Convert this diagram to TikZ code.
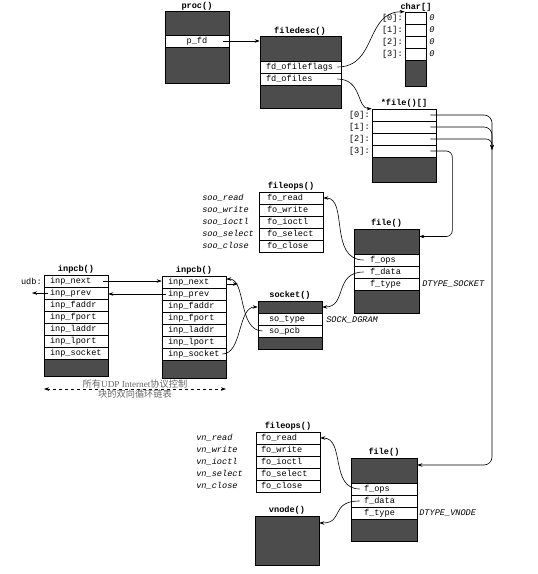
\documentclass[tikz,border=0pt]{standalone}
\usepackage{fontspec}
\setmainfont{Liberation Serif}
\setmonofont{Liberation Mono}
\newfontfamily\cjk{Noto Sans CJK SC}
\usetikzlibrary{arrows.meta}
\newcommand\mono{\fontsize{8.6pt}{9pt}\selectfont\ttfamily}
\tikzset{
  row/.style 2 args={draw, fill=white, minimum height=12pt, inner ysep=0pt,
    text width=#1, inner xsep=#2, align=left, text height=6pt, text depth=1.5pt, font=\mono},
  shade/.style={draw, fill=black!70, inner sep=0pt},
  hdr/.style={font=\mono\bfseries, inner sep=0pt},
  note/.style={font=\mono\itshape, anchor=west, inner sep=0pt},
  idx/.style={font=\mono, anchor=east, inner sep=0pt},
}
\begin{document}
\begin{tikzpicture}[x=1pt, y=-1pt, line width=0.6pt, >={Stealth[length=5pt,width=3.5pt]}]
\useasboundingbox (0,0) rectangle (538,574);

% proc{}
\node[hdr] (proct) at (197,6) {proc()};
\node[shade, minimum width=64pt, minimum height=24pt] (proca) at (197,23) {};
\node[row={52pt}{6pt}, align=center] (pfd) at (197,41) {p\_fd};
\node[shade, minimum width=64pt, minimum height=36pt] (procb) at (197,65) {};

% filedesc{}
\node[hdr] (fdt) at (300,31) {filedesc()};
\node[shade, minimum width=81pt, minimum height=25pt] (fdtop) at (300.5,48.5) {};
\node[row={69pt}{6pt}] (fdflags) at (300.5,67) {fd\_ofileflags};
\node[row={69pt}{6pt}] (fdfiles) at (300.5,79) {fd\_ofiles};
\node[shade, minimum width=81pt, minimum height=23pt] (fdbot) at (300.5,96.5) {};

% char[]
\node[hdr] (cht) at (416,7) {char[]};
\node[row={9pt}{6pt}] (c0) at (415.5,18) {};
\node[row={9pt}{6pt}] (c1) at (415.5,30) {};
\node[row={9pt}{6pt}] (c2) at (415.5,42) {};
\node[row={9pt}{6pt}] (c3) at (415.5,54) {};
\node[shade, minimum width=21pt, minimum height=26pt] (cbot) at (415.5,73) {};
\node[idx] (c0l) at (403,18) {[0]:};
\node[idx] (c1l) at (403,30) {[1]:};
\node[idx] (c2l) at (403,42) {[2]:};
\node[idx] (c3l) at (403,54) {[3]:};
\node[note, anchor=center] (c0v) at (432,18) {0};
\node[note, anchor=center] (c1v) at (432,30) {0};
\node[note, anchor=center] (c2v) at (432,42) {0};
\node[note, anchor=center] (c3v) at (432,54) {0};

% *file{}[]
\node[hdr] (fat) at (404,103) {*file()[]};
\node[row={52pt}{6pt}] (fa0) at (404,115) {};
\node[row={52pt}{6pt}] (fa1) at (404,127) {};
\node[row={52pt}{6pt}] (fa2) at (404,139) {};
\node[row={52pt}{6pt}] (fa3) at (404,151) {};
\node[shade, minimum width=64pt, minimum height=25pt] (fabot) at (404,169.5) {};
\node[idx] (fa0l) at (370,115) {[0]:};
\node[idx] (fa1l) at (370,127) {[1]:};
\node[idx] (fa2l) at (370,139) {[2]:};
\node[idx] (fa3l) at (370,151) {[3]:};

% fileops{} of the socket
\node[hdr] (sopt) at (291,186) {fileops()};
\node[row={48pt}{8pt}] (sread) at (291,198) {fo\_read};
\node[row={48pt}{8pt}] (swrite) at (291,210) {fo\_write};
\node[row={48pt}{8pt}] (sioctl) at (291,222) {fo\_ioctl};
\node[row={48pt}{8pt}] (sselect) at (291,234) {fo\_select};
\node[row={48pt}{8pt}] (sclose) at (291,246) {fo\_close};
\node[note] (sreadf) at (202,198) {soo\_read};
\node[note] (swritef) at (202,210) {soo\_write};
\node[note] (sioctlf) at (202,222) {soo\_ioctl};
\node[note] (sselectf) at (202,234) {soo\_select};
\node[note] (sclosef) at (202,246) {soo\_close};

% file{} of the socket
\node[hdr] (fst) at (386.5,223) {file()};
\node[shade, minimum width=65pt, minimum height=25pt] (fstop) at (386.5,241.5) {};
\node[row={33pt}{16pt}] (fsops) at (386.5,260) {f\_ops};
\node[row={33pt}{16pt}] (fsdata) at (386.5,272) {f\_data};
\node[row={33pt}{16pt}] (fstype) at (386.5,284) {f\_type};
\node[shade, minimum width=65pt, minimum height=23pt] (fsbot) at (386.5,301.5) {};
\node[note] (fstv) at (422,284) {DTYPE\_SOCKET};

% socket{}
\node[hdr] (skt) at (290,295) {socket()};
\node[shade, minimum width=64pt, minimum height=12pt] (sktop) at (290,307) {};
\node[row={42pt}{11pt}] (sktype) at (290,319) {so\_type};
\node[row={42pt}{11pt}] (skpcb) at (290,331) {so\_pcb};
\node[shade, minimum width=64pt, minimum height=12pt] (skbot) at (290,343) {};
\node[note] (sktv) at (326,320) {SOCK\_DGRAM};

% inpcb{} head
\node[hdr] (Lt) at (76,269) {inpcb()};
\node[row={52pt}{6pt}] (L1) at (76,281) {inp\_next};
\node[row={52pt}{6pt}] (L2) at (76,293) {inp\_prev};
\node[row={52pt}{6pt}] (L3) at (76,305) {inp\_faddr};
\node[row={52pt}{6pt}] (L4) at (76,317) {inp\_fport};
\node[row={52pt}{6pt}] (L5) at (76,329) {inp\_laddr};
\node[row={52pt}{6pt}] (L6) at (76,341) {inp\_lport};
\node[row={52pt}{6pt}] (L7) at (76,353) {inp\_socket};
\node[shade, minimum width=64pt, minimum height=17pt] (Lbot) at (76,367.5) {};
\node[idx] (udb) at (42,281) {udb:};

% inpcb{} of the socket
\node[hdr] (Rt) at (194,270) {inpcb()};
\node[row={52pt}{6pt}] (R1) at (194,282) {inp\_next};
\node[row={52pt}{6pt}] (R2) at (194,294) {inp\_prev};
\node[row={52pt}{6pt}] (R3) at (194,306) {inp\_faddr};
\node[row={52pt}{6pt}] (R4) at (194,318) {inp\_fport};
\node[row={52pt}{6pt}] (R5) at (194,330) {inp\_laddr};
\node[row={52pt}{6pt}] (R6) at (194,342) {inp\_lport};
\node[row={52pt}{6pt}] (R7) at (194,354) {inp\_socket};
\node[shade, minimum width=64pt, minimum height=18pt] (Rbot) at (194,369) {};

% ring of all UDP pcbs
\coordinate (ringl) at (44,389);
\coordinate (ringr) at (226,389);
\draw[<->, dashed] (ringl) -- (ringr);
\node[text=black!60, align=center, inner sep=0pt, font=\fontsize{9.2pt}{10pt}\selectfont] (ringtxt) at (135,389)
  {{\cjk 所有}UDP Internet{\cjk 协议控制}\\{\cjk 块的双向循环链表}};

% fileops{} of the vnode
\node[hdr] (vopt) at (288,426) {fileops()};
\node[row={54pt}{5pt}] (vread) at (288,438) {fo\_read};
\node[row={54pt}{5pt}] (vwrite) at (288,450) {fo\_write};
\node[row={54pt}{5pt}] (vioctl) at (288,462) {fo\_ioctl};
\node[row={54pt}{5pt}] (vselect) at (288,474) {fo\_select};
\node[row={54pt}{5pt}] (vclose) at (288,486) {fo\_close};
\node[note] (vreadf) at (196,438) {vn\_read};
\node[note] (vwritef) at (196,450) {vn\_write};
\node[note] (vioctlf) at (196,462) {vn\_ioctl};
\node[note] (vselectf) at (196,474) {vn\_select};
\node[note] (vclosef) at (196,486) {vn\_close};

% file{} of the vnode
\node[hdr] (fvt) at (384,452) {file()};
\node[shade, minimum width=66pt, minimum height=25pt] (fvtop) at (384,470.5) {};
\node[row={40pt}{13pt}] (fvops) at (384,489) {f\_ops};
\node[row={40pt}{13pt}] (fvdata) at (384,501) {f\_data};
\node[row={40pt}{13pt}] (fvtype) at (384,513) {f\_type};
\node[shade, minimum width=66pt, minimum height=22pt] (fvbot) at (384,530) {};
\node[note] (fvtv) at (419,513) {DTYPE\_VNODE};

% vnode{}
\node[hdr] (vnt) at (287,510) {vnode()};
\node[shade, minimum width=64pt, minimum height=49pt] (vnode) at (287,540.5) {};

% pointers
\draw[->] ([xshift=-6pt]pfd.east) -- (fdtop.west |- pfd.east);
\draw[->] ([xshift=-4pt]fdflags.east) .. controls +(40,0) and +(-40,0) .. (c0.north west);
\draw[->] ([xshift=-4pt]fdfiles.east) .. controls +(25,0) and +(-15,0) .. (fa0.north west);
\coordinate (bus) at (492,150);
\draw[->, rounded corners=8pt] ([xshift=-6pt]fa0.east) -| (bus);
\draw[->, rounded corners=8pt] ([xshift=-6pt]fa1.east) -| (bus);
\draw[->, rounded corners=6pt] ([xshift=-6pt]fa2.east) -| (bus);
\draw[->, rounded corners=8pt] (bus) |- ([yshift=5.5pt]fvtop.east);
\draw[->, rounded corners=6pt] ([xshift=-6pt]fa3.east) -| ([xshift=33pt,yshift=5pt]fstop.east) -- ([yshift=5pt]fstop.east);
\draw[->] ([xshift=10pt]fsops.west) .. controls +(-35,0) and +(25,0) .. (sread.east);
\draw[->] ([xshift=10pt]fsdata.west) .. controls +(-30,0) and +(25,0) .. (sktop.east);
\draw[->] ([xshift=5pt]skpcb.west) .. controls +(-25,0) and +(20,0) .. ([yshift=3pt]R1.east);
\draw[->] ([xshift=-4pt]R7.east) .. controls +(20,0) and +(-20,0) .. (sktop.west);
\draw[->] ([xshift=-5pt]L1.east) -- (L1.east -| R1.west);
\draw[->] ([xshift=4pt]R2.west) -- (R2.west -| L2.east);
\coordinate (udbprev) at (32,293);
\draw[->] ([xshift=4pt]L2.west) -- (udbprev);
\coordinate (nextout) at (238,284);
\draw[->] ([yshift=-2pt]R1.east) -- (nextout);
\draw[->] ([xshift=9pt]fvops.west) .. controls +(-30,0) and +(25,0) .. (vread.east);
\draw[->] ([xshift=9pt]fvdata.west) .. controls +(-30,0) and +(25,0) .. ([yshift=17.5pt]vnode.east);
\end{tikzpicture}
\end{document}
